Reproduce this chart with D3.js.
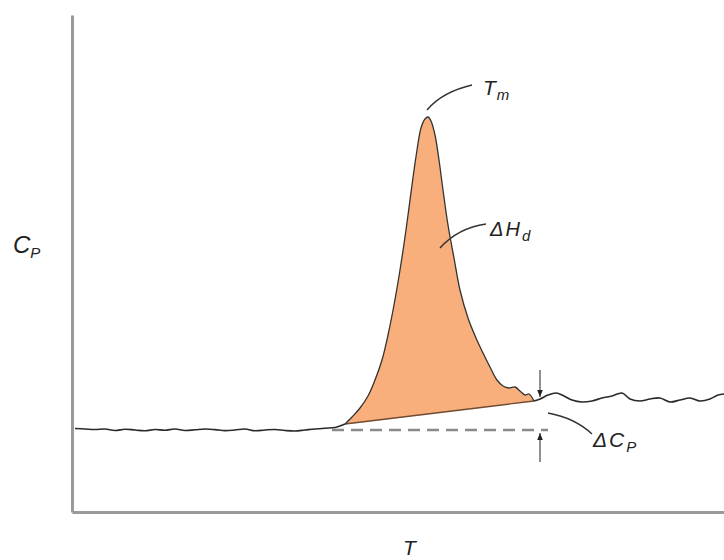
<!DOCTYPE html>
<html>
<head>
<meta charset="utf-8">
<script src="https://cdn.jsdelivr.net/npm/d3@7"></script>
<style>
  html, body { margin: 0; padding: 0; background: #fff; }
  svg { display: block; }
  text { font-family: "Liberation Sans", Arial, sans-serif; font-style: italic; fill: #222; }
</style>
</head>
<body>
<svg id="chart" width="724" height="560"></svg>
<script>
// ---- data (arbitrary temperature / heat-capacity units) ----
const baselineT  = [0.3,1.3,2.3,3.3,4.3,5.3,6.3,7.3,8.3,9.3,10.3,11.3,12.3,13.3,14.3,15.3,16.3,17.3,18.3,19.3,20.3,21.3,22.3,23.3,24.3,25.3,26.3,27.3];
const baselineCp = [8.35,8.3,8.25,8.3,8.15,8.28,8.2,8.12,8.25,8.18,8.3,8.15,8.22,8.3,8.24,8.14,8.2,8.3,8.12,8.2,8.25,8.15,8.1,8.2,8.3,8.38,8.45,8.8];

const peakT  = [27.3,28.0,28.8,29.6,30.3,31.0,31.6,32.2,32.8,33.4,34.0,34.5,34.9,35.3,35.6,35.9,36.3,36.7,37.1,37.6,38.2,38.8,39.6,40.4,41.1,41.8,42.5,43.1,43.7,44.3,44.8,45.3,45.7,46.2];
const peakCp = [8.8,9.5,10.4,11.6,13.2,15.2,17.7,20.7,24.2,28.2,32.7,36.2,38.4,39.3,39.5,39.1,37.7,35.2,32.2,28.7,25.4,22.2,19.4,17.4,15.9,14.5,13.2,12.6,12.4,12.5,12.1,11.7,11.8,11.1];

const postT  = [46.2,46.8,47.6,48.4,49.2,50.0,51.0,52.0,53.0,54.0,55.0,55.8,56.8,57.8,58.8,59.8,60.8,61.8,62.8,63.8,64.6,65.2];
const postCp = [11.1,11.3,11.7,11.9,11.6,11.2,11.0,11.1,11.4,11.6,11.9,11.3,11.1,11.3,11.4,11.0,11.2,11.4,11.1,11.3,11.7,11.8];

const extrapT  = [26.0, 47.6];   // dashed extrapolated pre-transition baseline
const extrapCp = [8.2, 8.2];

const deltaCpT = 46.8;           // position of the ΔCp arrows
const deltaCpLow = 8.2, deltaCpHigh = 11.3;

const labels = {
  y: "C", ySub: "P",
  x: "T",
  tm: "T", tmSub: "m",
  dh: "\u0394H", dhSub: "d",
  dcp: "\u0394C", dcpSub: "P"
};

// ---- scales ----
const svg = d3.select("#chart");
const x = d3.scaleLinear().domain([0, 65.2]).range([72, 724]);
const y = d3.scaleLinear().domain([0, 49.7]).range([512, 15]);

// ---- axes (no ticks) ----
const yAxis = d3.axisLeft(y).tickValues([]).tickSizeOuter(0);
const xAxis = d3.axisBottom(x).tickValues([]).tickSizeOuter(0);
svg.append("g").attr("transform", `translate(${x(0)},0)`).call(yAxis)
  .select(".domain").attr("stroke", "#9a9a9a").attr("stroke-width", 3);
svg.append("g").attr("transform", `translate(0,${y(0)})`).call(xAxis)
  .select(".domain").attr("stroke", "#9a9a9a").attr("stroke-width", 3);

// ---- arrow marker ----
svg.append("defs").append("marker")
  .attr("id", "arr").attr("viewBox", "0 0 10 10").attr("refX", 10).attr("refY", 5)
  .attr("markerWidth", 7).attr("markerHeight", 7).attr("markerUnits", "userSpaceOnUse")
  .attr("orient", "auto")
  .append("path").attr("d", "M0,1 L10,5 L0,9 Z").attr("fill", "#222");

const lineCR = d3.line().x(d => x(d[0])).y(d => y(d[1])).curve(d3.curveCatmullRom.alpha(0.5));
const lineLin = d3.line().x(d => x(d[0])).y(d => y(d[1]));

const peakPts = peakT.map((t, i) => [t, peakCp[i]]);
const basePts = baselineT.map((t, i) => [t, baselineCp[i]]);
const postPts = postT.map((t, i) => [t, postCp[i]]);

// ---- peak fill (area between curve and sloped baseline) ----
const fillPath = lineCR(peakPts) + "Z";
svg.append("path").attr("d", fillPath).attr("fill", "#F8AF7B").attr("stroke", "none");

// sloped (interpolated) baseline under the peak
svg.append("path")
  .attr("d", lineLin([peakPts[0], peakPts[peakPts.length - 1]]))
  .attr("fill", "none").attr("stroke", "#6e4a30").attr("stroke-width", 1.4);

// dashed extrapolated baseline
svg.append("path")
  .attr("d", lineLin(extrapT.map((t, i) => [t, extrapCp[i]])))
  .attr("fill", "none").attr("stroke", "#8a8a8a").attr("stroke-width", 2.5)
  .attr("stroke-dasharray", "12,7");

// thermogram trace
svg.append("path").attr("d", lineCR(basePts))
  .attr("fill", "none").attr("stroke", "#2a2a2a").attr("stroke-width", 1.6);
svg.append("path").attr("d", lineCR(peakPts))
  .attr("fill", "none").attr("stroke", "#333").attr("stroke-width", 1.3);
svg.append("path").attr("d", lineCR(postPts))
  .attr("fill", "none").attr("stroke", "#2a2a2a").attr("stroke-width", 1.6);

// ---- ΔCp arrows ----
svg.append("line")
  .attr("x1", x(deltaCpT)).attr("x2", x(deltaCpT))
  .attr("y1", y(deltaCpHigh + 2.9)).attr("y2", y(deltaCpHigh) - 2)
  .attr("stroke", "#222").attr("stroke-width", 1).attr("marker-end", "url(#arr)");
svg.append("line")
  .attr("x1", x(deltaCpT)).attr("x2", x(deltaCpT))
  .attr("y1", y(deltaCpLow - 3.2)).attr("y2", y(deltaCpLow) + 3)
  .attr("stroke", "#222").attr("stroke-width", 1).attr("marker-end", "url(#arr)");

// ---- leader lines ----
function leader(p0, c, p1) {
  const p = d3.path();
  p.moveTo(x(p0[0]), y(p0[1]));
  p.quadraticCurveTo(x(c[0]), y(c[1]), x(p1[0]), y(p1[1]));
  svg.append("path").attr("d", p.toString())
    .attr("fill", "none").attr("stroke", "#333").attr("stroke-width", 1.4);
}
leader([35.5, 40.2], [37.0, 42.0], [40.0, 42.7]);   // Tm
leader([36.8, 26.4], [38.6, 28.4], [41.4, 28.8]);   // ΔHd
leader([47.6, 9.9], [50.3, 9.4], [52.0, 7.8]);      // ΔCp

// ---- labels ----
function subLabel(tx, ty, main, sub, size, subSize, spacing) {
  const t = svg.append("text")
    .attr("x", x(tx)).attr("y", y(ty))
    .attr("font-size", size);
  t.append("tspan").text(main).attr("letter-spacing", spacing || 0);
  t.append("tspan").text(sub).attr("font-size", subSize).attr("dy", 5);
}
subLabel(-5.9, 25.9, labels.y, labels.ySub, 24, 15, 0);
subLabel(41.1, 41.7, labels.tm, labels.tmSub, 21, 15, 1);
subLabel(41.8, 27.6, labels.dh, labels.dhSub, 20, 15, 2);
subLabel(52.1, 6.5, labels.dcp, labels.dcpSub, 21, 15, 2);

svg.append("text").attr("x", x(33.1)).attr("y", y(-4.3))
  .attr("font-size", 21).text(labels.x);
</script>
</body>
</html>
